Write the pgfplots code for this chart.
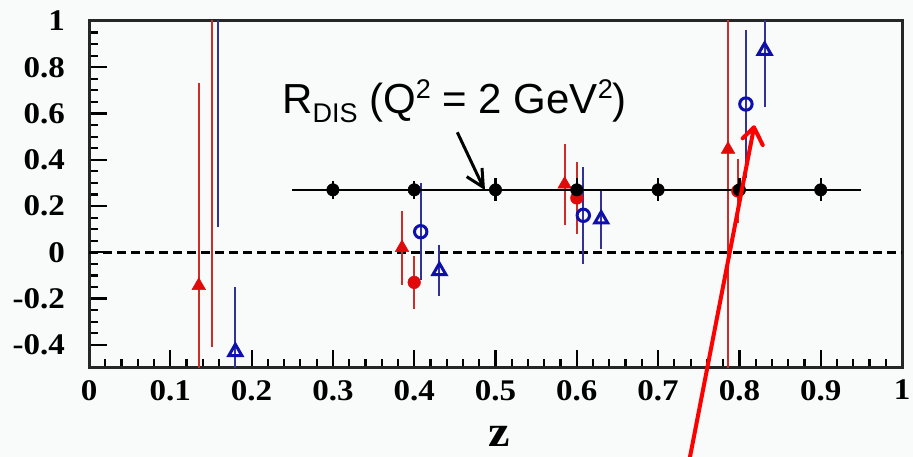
\documentclass[border=0pt]{standalone}
\usepackage{pgfplots}
\pgfplotsset{compat=1.18}
\usepackage{pgfplotstable}
\usepackage{fontspec}
\usetikzlibrary{arrows.meta}
\setmainfont{Liberation Serif}
\newfontfamily\arialfont{Liberation Sans}
\newfontfamily\tickfont{Liberation Serif}[FakeStretch=1.1]

\definecolor{bgcol}{RGB}{248,251,249}
\definecolor{mred}{RGB}{225,10,10}
\definecolor{ered}{RGB}{205,45,40}
\definecolor{mblue}{RGB}{15,15,175}
\definecolor{eblue}{RGB}{50,50,150}

% R_DIS reference points
\pgfplotstableread{
x    y     ex    ey
0.3  0.27  0.05  0.04
0.4  0.27  0.05  0.04
0.5  0.27  0.05  0.05
0.6  0.27  0.05  0.05
0.7  0.27  0.05  0.05
0.8  0.27  0.05  0.05
0.9  0.27  0.05  0.05
}\blk

\pgfplotstableread{
x      y       e
0.135  -0.144  0.876
0.385   0.020  0.160
0.585   0.294  0.175
0.786   0.445  2.000
}\redtri

\pgfplotstableread{
x      y       e
0.151   1.300  1.710
0.400  -0.130  0.115
0.600   0.235  0.155
0.798   0.265  0.140
}\redcirc

\pgfplotstableread{
x      y       e
0.159   1.500  1.390
0.408   0.089  0.210
0.608   0.160  0.210
0.808   0.641  0.320
}\bluecirc

\pgfplotstableread{
x      y       e
0.180  -0.430  0.280
0.431  -0.080  0.110
0.630   0.143  0.130
0.831   0.872  0.245
}\bluetri

\begin{document}
\begin{tikzpicture}[x=1bp,y=1bp]
\fill[bgcol] (0,0) rectangle (913,457);
\begin{axis}[
  at={(89bp,89bp)}, anchor=south west,
  scale only axis, width=813bp, height=347bp,
  xmin=0, xmax=1, ymin=-0.5, ymax=1,
  axis background/.style={fill=bgcol},
  axis line style={line width=3bp, black!85},
  every outer x axis line/.append style={line width=3bp},
  every outer y axis line/.append style={line width=3bp},
  xtick={0,0.1,0.2,0.3,0.4,0.5,0.6,0.7,0.8,0.9,1},
  xticklabels={0,0.1,0.2,0.3,0.4,0.5,0.6,0.7,0.8,0.9,1},
  ytick={-0.4,-0.2,0,0.2,0.4,0.6,0.8,1},
  yticklabels={-0.4,-0.2,0,0.2,0.4,0.6,0.8,1},
  minor x tick num=4, minor y tick num=3,
  xtick pos=left, ytick pos=left,
  tick align=inside,
  major tick length=18bp, minor tick length=9bp,
  every tick/.style={black, line width=2.2bp},
  tick label style={font=\fontsize{30bp}{30bp}\tickfont\bfseries},
  yticklabel style={anchor=east, inner sep=0pt, xshift=-24bp},
  xticklabel style={anchor=north, inner sep=0pt, yshift=-12bp},
]
\addplot[black, line width=2.4bp, dash pattern=on 9bp off 5bp] coordinates {(0,0) (1,0)};

\addplot[only marks, mark=triangle*, mark size=7.8bp, color=mred,
  mark options={fill=mred, line width=0.5bp},
  error bars/.cd, y dir=both, y explicit, error mark=none,
  error bar style={ered, line width=2bp}]
  table[x=x, y=y, y error=e]{\redtri};

\addplot[only marks, mark=*, mark size=6.3bp, color=mred,
  mark options={fill=mred, line width=0.5bp},
  error bars/.cd, y dir=both, y explicit, error mark=none,
  error bar style={ered, line width=2bp}]
  table[x=x, y=y, y error=e]{\redcirc};

\addplot[only marks, mark=o, mark size=6.2bp, color=mblue,
  mark options={line width=3bp},
  error bars/.cd, y dir=both, y explicit, error mark=none,
  error bar style={eblue, line width=2bp}]
  table[x=x, y=y, y error=e]{\bluecirc};

\addplot[only marks, mark=triangle, mark size=7.5bp, color=mblue,
  mark options={line width=3bp},
  error bars/.cd, y dir=both, y explicit, error mark=none,
  error bar style={eblue, line width=2bp}]
  table[x=x, y=y, y error=e]{\bluetri};

\addplot[only marks, mark=*, mark size=6.2bp, color=black,
  mark options={line width=0.5bp},
  error bars/.cd, x dir=both, x explicit, y dir=both, y explicit, error mark=none,
  error bar style={black, line width=2.4bp}]
  table[x=x, y=y, x error=ex, y error=ey]{\blk};
\end{axis}

\node[anchor=base, inner sep=0pt] at (498.8,10.3)
  {\fontsize{44bp}{44bp}\tickfont\bfseries z};

\node[anchor=base west, inner sep=0pt] at (282,343.5)
  {\arialfont\fontsize{42bp}{42bp}\selectfont R\raisebox{-9bp}{\fontsize{27bp}{27bp}\selectfont DIS} (Q\raisebox{15bp}{\fontsize{27bp}{27bp}\selectfont 2} = 2 GeV\raisebox{15bp}{\fontsize{27bp}{27bp}\selectfont 2})};

\draw[black, line width=3bp] (457.3,324.7) -- (483.3,269.7)
  (466.7,280.3) -- (483.3,269.7) -- (482,289);
\draw[red, line width=4bp, line cap=round, line join=round] (689,-5) -- (754,329.7)
  (742.7,318.7) -- (754,329.7) -- (762.7,312);

\pgfresetboundingbox
\path[use as bounding box] (0,0) rectangle (913,457);
\end{tikzpicture}
\end{document}
